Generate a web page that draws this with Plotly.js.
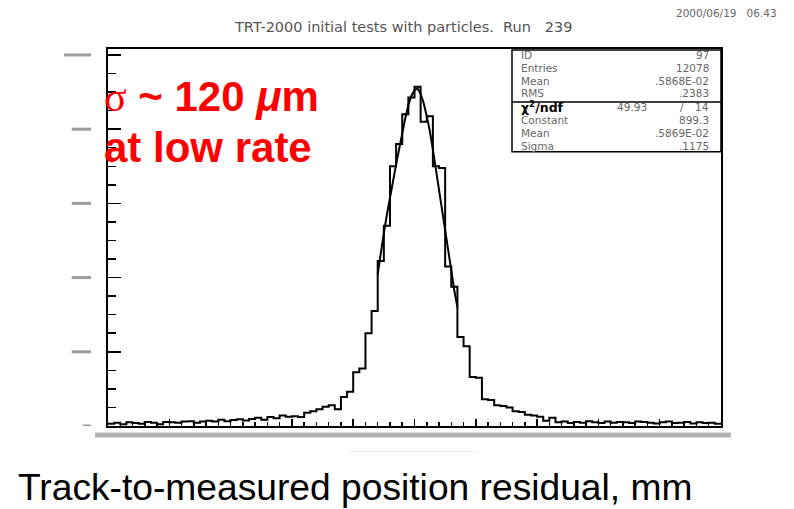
<!DOCTYPE html>
<html>
<head>
<meta charset="utf-8">
<script src="https://cdn.plot.ly/plotly-3.0.1.min.js"></script>
<style>html,body{margin:0;padding:0;background:#fff;}#chart{width:794px;height:509px;}</style>
</head>
<body>
<div id="chart"></div>
<script>
// ---- data ----
const binLow = -1.0;      // mm, left edge of first bin
const binWidth = 0.02;    // mm
const counts = [
  6, 9, 5, 10, 8, 6, 11, 9, 5, 11, 10, 9, 12, 13, 9, 12, 14, 12, 17, 13,
  16, 18, 15, 19, 22, 17, 24, 21, 28, 25, 26,
  24, 36, 40, 45, 52, 56, 45, 78, 92, 145,
  155, 250, 310, 445, 540, 700, 760, 840, 885, 914,
  820, 835, 700, 695, 430, 375, 240, 215, 132, 130,
  72, 70, 56, 54, 50, 40, 38, 30, 28, 25, 14, 22,
  10, 12, 8, 11, 9, 13, 10, 8, 12, 9, 11, 10, 8, 12, 11, 9, 7, 10, 12, 8, 9, 11, 7, 10, 8, 9, 6
];
// fitted gaussian curve
const fitX = [-0.12,-0.11,-0.10,-0.09,-0.08,-0.07,-0.06,-0.05,-0.04,-0.03,-0.02,-0.01,0.00,0.01,0.02,0.03,0.04,0.05,0.06,0.07,0.08,0.09,0.10,0.11,0.12,0.13,0.14];
const fitY = [410,470,520,570,620,660,705,750,790,830,865,890,905,910,895,870,835,795,745,690,635,580,525,470,415,365,320];

const titleText = "TRT-2000 initial tests with particles.\u00a0\u00a0Run\u00a0\u00a0\u00a0239";
const dateText = "2000/06/19\u00a0\u00a0\u00a006.43";
const statsLabels = ["ID", "Entries", "Mean", "RMS", "χ<sup>2</sup>/ndf", "Constant", "Mean", "Sigma"];
const statsValues = ["97", "12078", ".5868E-02", ".2383", "14", "899.3", ".5869E-02", ".1175"];
const chiValue = "49.93";
const yTickValues = [0, 200, 400, 600, 800, 1000];
const xLabel = "Track-to-measured position residual, mm";

// ---- build step outline from bins ----
const edgesX = [], stepY = [];
for (let i = 0; i < counts.length; i++) { edgesX.push(binLow + i * binWidth); stepY.push(counts[i]); }
edgesX.push(binLow + counts.length * binWidth); stepY.push(counts[counts.length - 1]);

// pixel -> paper helpers (layout placement only)
const L = 108, R = 721, T = 49, B = 426.5, W = 794, H = 509;
const px = v => (v - L) / (R - L);
const py = v => (B - v) / (B - T);

const shapes = [];
yTickValues.forEach(v => {
  let x0 = 71.7;
  if (v === 1000) x0 = 64;
  if (v === 0) x0 = 83;
  shapes.push({type:'line', xref:'paper', yref:'y', x0:px(x0), x1:px(91), y0:v, y1:v,
    line:{color:'#9c9c9c', width:3}});
});
shapes.push({type:'rect', xref:'paper', yref:'paper', x0:px(95), x1:px(731), y0:py(433), y1:py(438),
  line:{width:0}, fillcolor:'#b4b4b4'});
shapes.push({type:'line', xref:'paper', yref:'paper', x0:px(349), x1:px(478), y0:py(452), y1:py(452),
  line:{color:'#eeeeee', width:1}});
shapes.push({type:'rect', xref:'paper', yref:'paper', x0:px(512), x1:px(721), y0:py(50), y1:py(152),
  line:{color:'#000', width:1.5}, fillcolor:'rgba(255,255,255,0)'});
shapes.push({type:'line', xref:'paper', yref:'paper', x0:px(512), x1:px(721), y0:py(102), y1:py(102),
  line:{color:'#000', width:1.5}});

const annotations = [];
const rowY = [55, 68, 81, 93.5, 107, 120, 133, 146];
const statFont = 'DejaVu Sans, Liberation Sans, Arial';
statsLabels.forEach((t, i) => {
  const isChi = i === 4;
  annotations.push({xref:'paper', yref:'paper', x:px(519), y:py(rowY[i]), xanchor:'left', yanchor:'middle',
    text: isChi ? '<b>' + t + '</b>' : t, showarrow:false,
    font:{family: statFont, size: isChi ? 12.5 : 10.5, color: isChi ? '#000' : '#666'}});
  annotations.push({xref:'paper', yref:'paper', x:px(711), y:py(rowY[i]), xanchor:'right', yanchor:'middle',
    text: statsValues[i], showarrow:false, font:{family: statFont, size:10.5, color:'#666'}});
});
annotations.push({xref:'paper', yref:'paper', x:px(649), y:py(rowY[4]), xanchor:'right', yanchor:'middle',
  text: chiValue, showarrow:false, font:{family: statFont, size:10.5, color:'#666'}});
annotations.push({xref:'paper', yref:'paper', x:px(682), y:py(rowY[4]), xanchor:'center', yanchor:'middle',
  text: '/', showarrow:false, font:{family: statFont, size:10.5, color:'#666'}});

annotations.push({xref:'paper', yref:'paper', x:px(403), y:py(27), xanchor:'center', yanchor:'middle',
  text: titleText, showarrow:false, font:{family:'DejaVu Sans, Liberation Sans', size:14.5, color:'#555'}});
annotations.push({xref:'paper', yref:'paper', x:px(779), y:py(13), xanchor:'right', yanchor:'middle',
  text: dateText, showarrow:false, font:{family:'DejaVu Sans, Liberation Sans', size:10.5, color:'#666'}});

annotations.push({xref:'paper', yref:'paper', x:px(102), y:py(97), xanchor:'left', yanchor:'middle',
  text: '<span style="font-family:\'Liberation Serif\',serif;font-weight:normal">σ</span> ~ 120 <i>μ</i>m',
  showarrow:false, font:{family:'Liberation Sans, Arial', size:42, color:'#ff0000', weight:'bold'}});
annotations.push({xref:'paper', yref:'paper', x:px(102), y:py(148), xanchor:'left', yanchor:'middle',
  text: 'at low rate', showarrow:false, font:{family:'Liberation Sans, Arial', size:42, color:'#ff0000', weight:'bold'}});

annotations.push({xref:'paper', yref:'paper', x:px(16), y:py(488), xanchor:'left', yanchor:'middle',
  text: xLabel, showarrow:false, font:{family:'Liberation Sans, Arial', size:37.2, color:'#000'}});

const traces = [
  {type:'scatter', mode:'lines', x:edgesX, y:stepY, line:{shape:'hv', color:'#000', width:2}, hoverinfo:'skip'},
  {type:'scatter', mode:'lines', x:fitX, y:fitY, line:{color:'#000', width:2}, hoverinfo:'skip'}
];

const layout = {
  width: W, height: H,
  margin: {l: L, r: W - R, t: T, b: H - B, pad: 0},
  paper_bgcolor: '#fff', plot_bgcolor: '#fff',
  showlegend: false,
  xaxis: {range:[-1, 1], showline:true, linecolor:'#000', linewidth:2, mirror:true,
    ticks:'inside', tick0:-1, dtick:0.2, ticklen:7, tickwidth:1.5, tickcolor:'#000',
    minor:{ticks:'inside', dtick:0.04, tick0:-1, ticklen:4, tickwidth:1.5, tickcolor:'#000', showgrid:false},
    showticklabels:false, showgrid:false, zeroline:false},
  yaxis: {range:[0, 1016], showline:true, linecolor:'#000', linewidth:2, mirror:true,
    ticks:'inside', tick0:0, dtick:200, ticklen:13, tickwidth:1.5, tickcolor:'#000',
    minor:{ticks:'inside', dtick:50, ticklen:8, tickwidth:1.5, tickcolor:'#000', showgrid:false},
    showticklabels:false, showgrid:false, zeroline:false},
  shapes: shapes,
  annotations: annotations
};

Plotly.newPlot('chart', traces, layout, {staticPlot:true, displayModeBar:false});
</script>
</body>
</html>
